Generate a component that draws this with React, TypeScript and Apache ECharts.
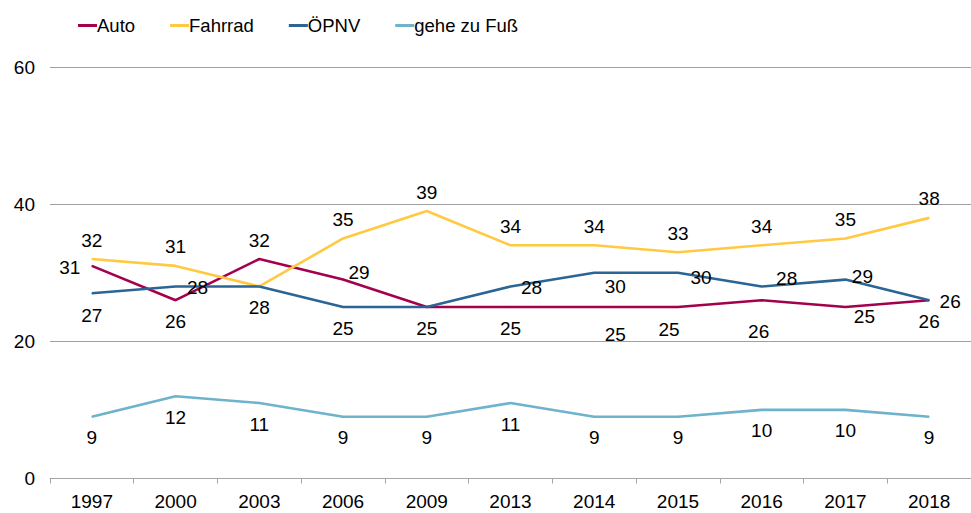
import React, { useEffect, useRef } from "react";
import * as echarts from "echarts";

const categories = ["1997", "2000", "2003", "2006", "2009", "2013", "2014", "2015", "2016", "2017", "2018"];
const seriesNames = ["Auto", "Fahrrad", "ÖPNV", "gehe zu Fuß"];
const autoValues = [31, 26, 32, 29, 25, 25, 25, 25, 26, 25, 26];
const fahrradValues = [32, 31, 28, 35, 39, 34, 34, 33, 34, 35, 38];
const oepnvValues = [27, 28, 28, 25, 25, 28, 30, 30, 28, 29, 26];
const fussValues = [9, 12, 11, 9, 9, 11, 9, 9, 10, 10, 9];
const yTicks = [0, 20, 40, 60];

// label placement (offsets from the point, null = hidden because it coincides with another label)
const autoOffsets: ([number, number] | null)[] = [[-22, 2], [0, 21], [0, -19], [16, -7], null, [0, 21], [21, 27], [-9, 22], [-3, 31], [19, 9], [0, 21]];
const fahrradOffsets: ([number, number] | null)[] = [[0, -19], [0, -19], [0, 21], [0, -19], [0, -19], [0, -19], [0, -19], [0, -19], [0, -19], [0, -19], [0, -19]];
const oepnvOffsets: ([number, number] | null)[] = [[0, 22], [22, 1], null, [0, 21], [0, 21], [21, 1], [21, 14], [23, 5], [25, -8], [17, -3], [21, 1]];
const fussOffsets: ([number, number] | null)[] = [[0, 21], [0, 21], [0, 21], [0, 21], [0, 21], [0, 21], [0, 21], [0, 21], [0, 21], [0, 21], [0, 21]];

const colors = ["#A3004D", "#FFC941", "#2A6595", "#6FB2CB"];
const FONT = "'Liberation Sans', Arial, sans-serif";
const SYM = 1;

export default function App() {
  const ref = useRef<HTMLDivElement>(null);
  useEffect(() => {
    if (!ref.current) return;
    const chart = echarts.init(ref.current, null, { renderer: "svg" });
    const mk = (name: string, values: number[], offsets: ([number, number] | null)[], color: string) => ({
      name,
      type: "line",
      symbol: "circle",
      symbolSize: SYM,
      showSymbol: true,
      itemStyle: { color },
      lineStyle: { color, width: 2.6 },
      label: {
        show: true,
        color: "#000",
        fontSize: 19,
        fontFamily: FONT,
        align: "center",
        verticalAlign: "middle",
      },
      data: values.map((v, i) => {
        const o = offsets[i];
        return o
          ? { value: v, label: { position: [o[0] + SYM / 2, o[1] + SYM / 2], align: "center", verticalAlign: "middle" } }
          : { value: v, label: { show: false } };
      }),
    });
    chart.setOption({
      animation: false,
      backgroundColor: "#fff",
      textStyle: { fontFamily: FONT },
      legend: {
        left: 73,
        top: 11,
        icon: "rect",
        itemWidth: 19,
        itemHeight: 3,
        itemGap: 35,
        data: seriesNames,
        textStyle: { fontSize: 18.5, color: "#000", fontFamily: FONT, padding: [0, 0, 0, -5] },
      },
      grid: { left: 50, right: -14, top: 67, bottom: 34.5, containLabel: false },
      xAxis: {
        type: "category",
        data: categories,
        boundaryGap: true,
        axisLine: { lineStyle: { color: "#a6a6a6", width: 1 } },
        axisTick: { show: true, length: 5, lineStyle: { color: "#a6a6a6" }, alignWithLabel: false },
        axisLabel: { color: "#000", fontSize: 19, fontFamily: FONT, margin: 13 },
      },
      yAxis: {
        type: "value",
        min: yTicks[0],
        max: yTicks[yTicks.length - 1],
        interval: 20,
        axisLine: { show: false },
        axisTick: { show: false },
        splitLine: { lineStyle: { color: "#a0a0a0", width: 1 } },
        axisLabel: { color: "#000", fontSize: 19, fontFamily: FONT, margin: 15 },
      },
      series: [
        mk(seriesNames[0], autoValues, autoOffsets, colors[0]),
        mk(seriesNames[1], fahrradValues, fahrradOffsets, colors[1]),
        mk(seriesNames[2], oepnvValues, oepnvOffsets, colors[2]),
        mk(seriesNames[3], fussValues, fussOffsets, colors[3]),
      ],
    });
    return () => chart.dispose();
  }, []);
  return <div ref={ref} style={{ position: "fixed", left: 0, top: 0, width: 971, height: 513 }} />;
}
